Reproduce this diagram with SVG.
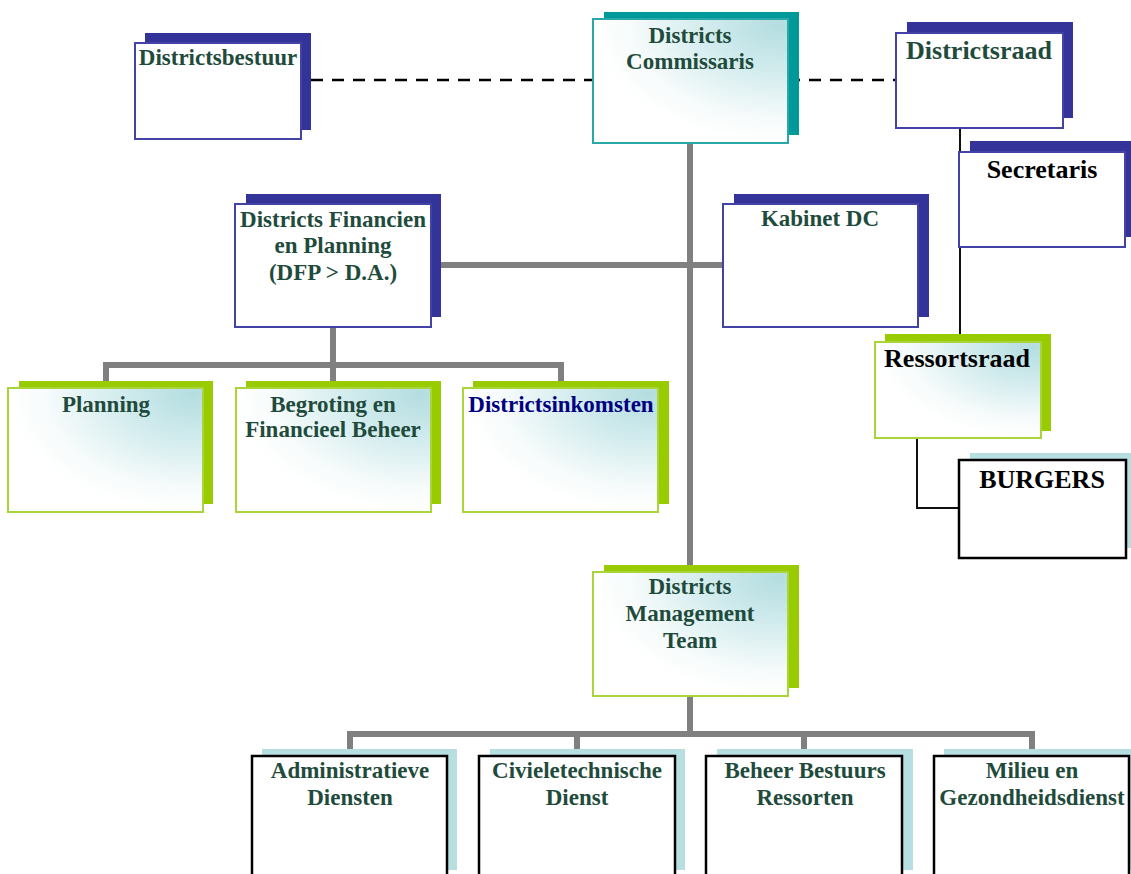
<svg xmlns="http://www.w3.org/2000/svg" width="1131" height="874" viewBox="0 0 1131 874">
<defs>
<radialGradient id="g" cx="0.95" cy="0.05" r="0.95">
<stop offset="0" stop-color="#b4dde0"/>
<stop offset="0.4" stop-color="#d3ecee"/>
<stop offset="0.8" stop-color="#f7fbfb"/>
<stop offset="1" stop-color="#ffffff"/>
</radialGradient>
<style>
.t{font-family:"Liberation Serif","Times New Roman",serif;font-weight:bold;font-size:23px;text-anchor:middle;fill:#1f4b3c}
.L{font-size:26px}
.k{fill:#000}
.nv{fill:#000080}
.sb{fill:#333399}
.fb{fill:#fff;stroke:#4343a6;stroke-width:2}
.st{fill:#009999}
.ft{fill:url(#g);stroke:#2aa7a7;stroke-width:2}
.sg{fill:#99cc00}
.fg{fill:url(#g);stroke:#a9d43a;stroke-width:2}
.sl{fill:#b7dfe2}
.fk{fill:#fff;stroke:#000;stroke-width:2.5}
.gl{stroke:#808080;stroke-width:6;fill:none}
.bl{stroke:#111;stroke-width:2;fill:none}
.dl{stroke:#000;stroke-width:2.5;stroke-dasharray:12 9;fill:none}
</style>
</defs>
<rect width="1131" height="874" fill="#fff"/>
<g id="connectors">
<line class="dl" x1="311" y1="80" x2="593" y2="80"/>
<line class="dl" x1="788" y1="80" x2="896" y2="80"/>
<line class="gl" x1="690" y1="143" x2="690" y2="572"/>
<line class="gl" x1="431" y1="265" x2="723" y2="265"/>
<polyline class="gl" points="333,327 333,365"/>
<polyline class="gl" points="106,383 106,365 561,365 561,383"/>
<line class="gl" x1="333" y1="365" x2="333" y2="383"/>
<line class="gl" x1="690" y1="696" x2="690" y2="734"/>
<polyline class="gl" points="350,750 350,734 1032,734 1032,750"/>
<line class="gl" x1="577" y1="734" x2="577" y2="750"/>
<line class="gl" x1="804" y1="734" x2="804" y2="750"/>
<line class="bl" x1="960" y1="128" x2="960" y2="342"/>
<polyline class="bl" points="917,438 917,508 959,508"/>
</g>
<g id="districtsbestuur">
<rect class="sb" x="145" y="33" width="166" height="97"/>
<rect class="fb" x="135" y="43" width="166" height="96"/>
<text class="t" x="218" y="65">Districtsbestuur</text>
</g>
<g id="districts-commissaris">
<rect class="st" x="604" y="12" width="195" height="123"/>
<rect class="ft" x="593" y="19" width="195" height="124"/>
<text class="t" x="690" y="43">Districts</text>
<text class="t" x="690" y="69">Commissaris</text>
</g>
<g id="districtsraad">
<rect class="sb" x="907" y="22" width="166" height="96"/>
<rect class="fb" x="896" y="33" width="167" height="95"/>
<text class="t L" x="979" y="59">Districtsraad</text>
</g>
<g id="secretaris">
<rect class="sb" x="970" y="141" width="165" height="96"/>
<rect class="fb" x="959" y="152" width="166" height="95"/>
<text class="t L k" x="1042" y="178">Secretaris</text>
</g>
<g id="kabinet-dc">
<rect class="sb" x="734" y="194" width="195" height="123"/>
<rect class="fb" x="723" y="204" width="195" height="123"/>
<text class="t" x="820" y="226">Kabinet DC</text>
</g>
<g id="dfp">
<rect class="sb" x="246" y="194" width="195" height="123"/>
<rect class="fb" x="235" y="204" width="196" height="123"/>
<text class="t" x="333" y="227">Districts Financien</text>
<text class="t" x="333" y="253">en Planning</text>
<text class="t" x="333" y="280">(DFP &gt; D.A.)</text>
</g>
<g id="planning">
<rect class="sg" x="19" y="381" width="194" height="123"/>
<rect class="fg" x="8" y="388" width="195" height="124"/>
<text class="t" x="106" y="412">Planning</text>
</g>
<g id="begroting">
<rect class="sg" x="246" y="381" width="195" height="123"/>
<rect class="fg" x="236" y="388" width="195" height="124"/>
<text class="t" x="333" y="412">Begroting en</text>
<text class="t" x="333" y="437">Financieel Beheer</text>
</g>
<g id="districtsinkomsten">
<rect class="sg" x="473" y="381" width="196" height="123"/>
<rect class="fg" x="463" y="388" width="195" height="124"/>
<text class="t nv" x="561" y="412">Districtsinkomsten</text>
</g>
<g id="ressortsraad">
<rect class="sg" x="885" y="334" width="166" height="97"/>
<rect class="fg" x="875" y="342" width="166" height="96"/>
<text class="t L k" x="957" y="367">Ressortsraad</text>
</g>
<g id="burgers">
<rect class="sl" x="970" y="453" width="165" height="95"/>
<rect class="fk" x="959" y="460" width="167" height="98"/>
<text class="t L k" x="1042" y="488">BURGERS</text>
</g>
<g id="districts-management-team">
<rect class="sg" x="604" y="565" width="195" height="123"/>
<rect class="fg" x="593" y="572" width="195" height="124"/>
<text class="t" x="690" y="594">Districts</text>
<text class="t" x="690" y="621">Management</text>
<text class="t" x="690" y="648">Team</text>
</g>
<g id="administratieve-diensten">
<rect class="sl" x="262" y="749" width="195" height="121"/>
<rect class="fk" x="252" y="756" width="195" height="130"/>
<text class="t" x="350" y="778">Administratieve</text>
<text class="t" x="350" y="805">Diensten</text>
</g>
<g id="civieletechnische-dienst">
<rect class="sl" x="490" y="749" width="195" height="121"/>
<rect class="fk" x="479" y="756" width="196" height="130"/>
<text class="t" x="577" y="778">Civieletechnische</text>
<text class="t" x="577" y="805">Dienst</text>
</g>
<g id="beheer-bestuurs-ressorten">
<rect class="sl" x="717" y="749" width="196" height="121"/>
<rect class="fk" x="706" y="756" width="196" height="130"/>
<text class="t" x="805" y="778">Beheer Bestuurs</text>
<text class="t" x="805" y="805">Ressorten</text>
</g>
<g id="milieu-gezondheidsdienst">
<rect class="sl" x="944" y="749" width="195" height="121"/>
<rect class="fk" x="934" y="756" width="195" height="130"/>
<text class="t" x="1032" y="778">Milieu en</text>
<text class="t" x="1032" y="805">Gezondheidsdienst</text>
</g>
</svg>
